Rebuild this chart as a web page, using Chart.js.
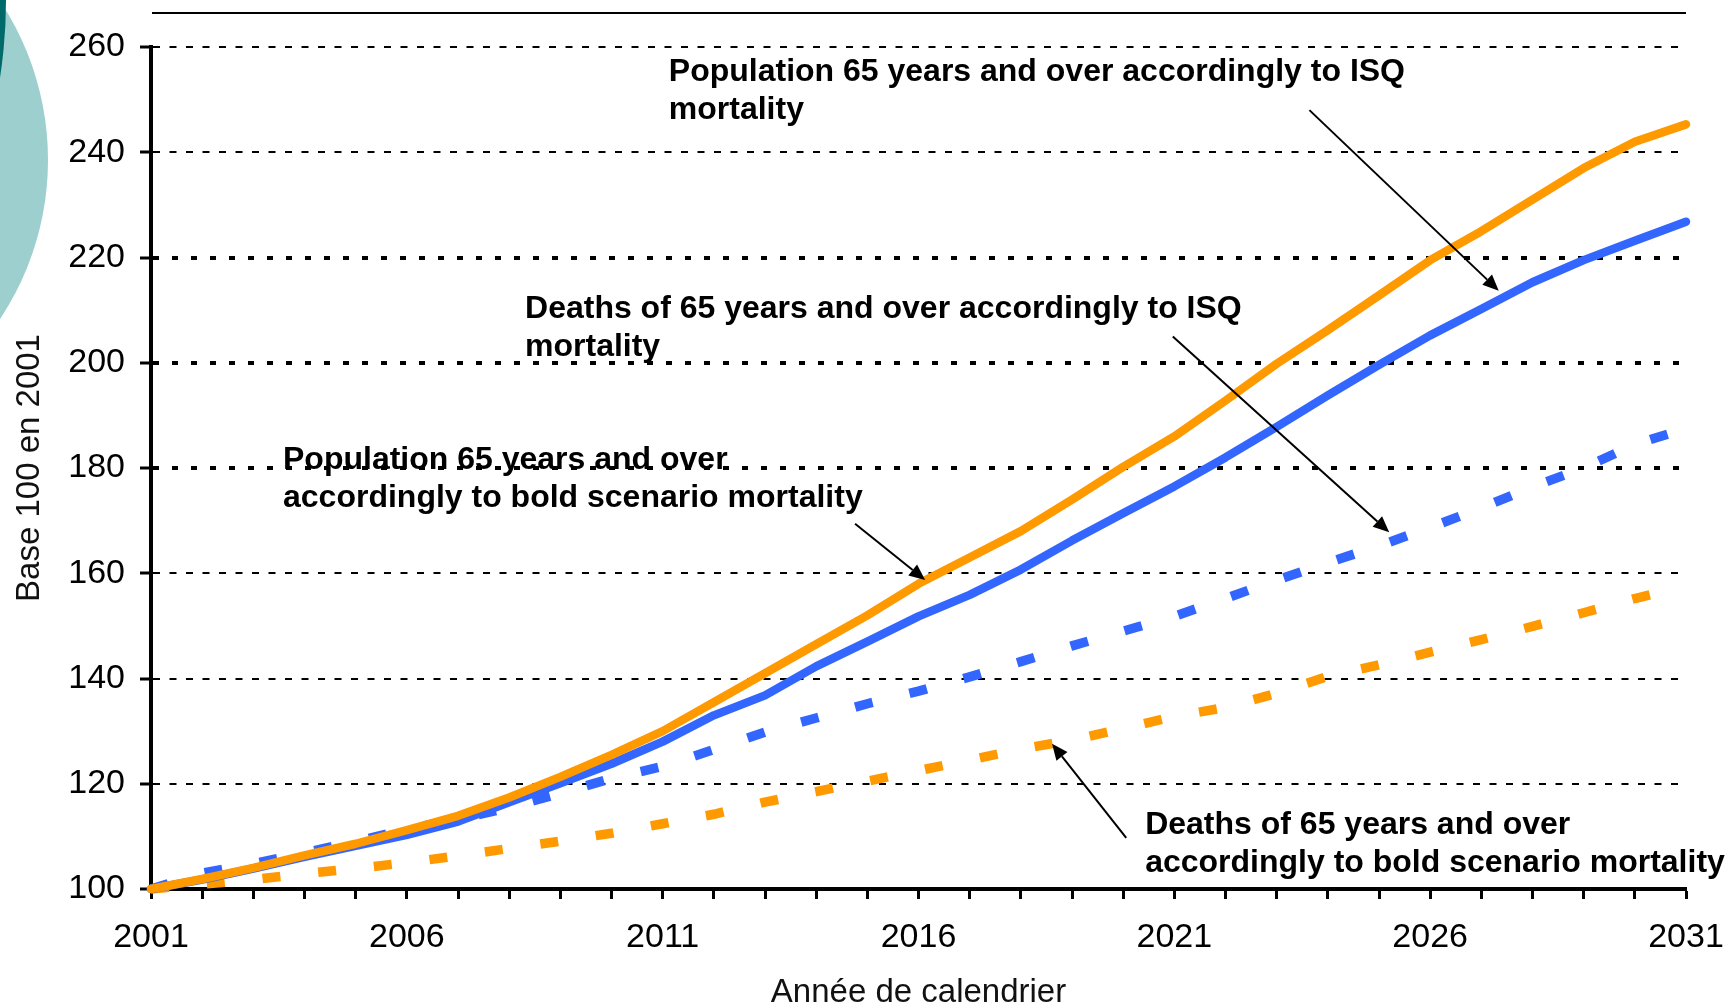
<!DOCTYPE html>
<html>
<head>
<meta charset="utf-8">
<script src="https://cdn.jsdelivr.net/npm/chart.js@4.4.0/dist/chart.umd.min.js"></script>
<style>
  html, body { margin: 0; padding: 0; background: #ffffff; }
  #wrap { position: relative; width: 1725px; height: 1007px; }
  canvas { display: block; }
</style>
</head>
<body>
<div id="wrap"><canvas id="c" width="1725" height="1007"></canvas></div>
<script>
// ---------- data ----------
const years = ['2001','2002','2003','2004','2005','2006','2007','2008','2009','2010',
               '2011','2012','2013','2014','2015','2016','2017','2018','2019','2020',
               '2021','2022','2023','2024','2025','2026','2027','2028','2029','2030','2031'];
const xTickLabels = ['2001','2006','2011','2016','2021','2026','2031'];
const yTickValues = [100,120,140,160,180,200,220,240,260];

const popBold = [100,101.9,104.0,106.4,108.6,111.2,113.9,117.4,121.3,125.5,
                 130.0,135.5,141.0,146.5,152.0,158.0,163.0,168.0,174.0,180.2,
                 186.0,192.8,199.8,206.2,212.8,219.5,225.0,231.0,237.0,242.0,245.3];
const popISQ  = [100,101.8,103.9,106.1,108.2,110.3,112.8,116.5,120.1,123.8,
                 128.0,133.0,136.8,142.3,147.0,151.8,155.9,160.7,166.2,171.4,
                 176.5,182.0,187.8,193.8,199.6,205.2,210.2,215.3,219.5,223.2,226.8];
const deathsISQ = [100,103.0,104.8,106.9,109.0,111.4,113.2,115.5,118.2,121.0,
                   123.3,126.5,129.8,132.5,135.2,137.6,140.3,143.2,146.2,149.0,
                   151.8,155.2,158.7,162.0,165.2,168.7,172.4,176.4,180.0,184.5,187.5];
const deathsBold = [100,100.9,101.8,102.9,103.9,105.0,106.3,107.7,109.1,110.6,
                    112.4,114.2,116.5,118.5,120.5,122.5,124.5,126.6,128.3,130.5,
                    132.8,134.5,137.2,140.4,142.6,145.0,147.4,149.9,152.5,155.2,157.5];

const seriesNames = [
  'Population 65 years and over accordingly to bold scenario mortality',
  'Population 65 years and over accordingly to ISQ mortality',
  'Deaths of 65 years and over accordingly to ISQ mortality',
  'Deaths of 65 years and over accordingly to bold scenario mortality'
];

// annotations: text lines, text anchor (year, value), arrow from (year,value) to (year,value)
const annoLines = [
  ['Population 65 years and over accordingly to ISQ', 'mortality'],
  ['Deaths of 65 years and over accordingly to ISQ', 'mortality'],
  ['Population 65 years and over', 'accordingly to bold scenario mortality'],
  ['Deaths of 65 years and over', 'accordingly to bold scenario mortality']
];
const annoTextYear  = [2011.12, 2008.31, 2003.58, 2020.43];
const annoTextValue = [255.2, 210.2, 181.5, 112.1];
const arrowFromYear  = [2023.64, 2020.97, 2014.76, 2020.06];
const arrowFromValue = [248.0, 205.0, 169.4, 109.7];
const arrowToYear    = [2027.34, 2025.20, 2016.13, 2018.61];
const arrowToValue   = [213.7, 167.8, 158.7, 127.6];

// ---------- style ----------
const ORANGE = '#FF9900';
const BLUE = '#3366FF';
const FONT = '"Liberation Sans", Arial, Helvetica, sans-serif';
const boldGrid = [180, 200, 220];

const decorPlugin = {
  id: 'decor',
  beforeDraw(chart) {
    const ctx = chart.ctx;
    ctx.save();
    ctx.fillStyle = '#9DCFCE';
    ctx.beginPath();
    ctx.ellipse(-228, 160, 276, 282, 0, 0, Math.PI * 2);
    ctx.fill();
    ctx.fillStyle = '#006A6A';
    ctx.beginPath();
    ctx.arc(-500, 0, 506, 0, Math.PI * 2);
    ctx.fill();
    const a = chart.chartArea;
    ctx.strokeStyle = '#000';
    ctx.lineWidth = 2;
    ctx.beginPath();
    ctx.moveTo(a.left + 1, 13);
    ctx.lineTo(a.right, 13);
    ctx.stroke();
    ctx.restore();
  }
};

const annoPlugin = {
  id: 'anno',
  afterDatasetsDraw(chart) {
    const ctx = chart.ctx;
    const xs = chart.scales.x, ys = chart.scales.y;
    const px = (yr) => xs.getPixelForValue(yr - 2001);
    ctx.save();
    ctx.strokeStyle = '#000';
    ctx.fillStyle = '#000';
    ctx.lineWidth = 2;
    for (let i = 0; i < annoLines.length; i++) {
      const x1 = px(arrowFromYear[i]), y1 = ys.getPixelForValue(arrowFromValue[i]);
      const x2 = px(arrowToYear[i]), y2 = ys.getPixelForValue(arrowToValue[i]);
      const ang = Math.atan2(y2 - y1, x2 - x1);
      const hl = 16, hw = 7;
      const bx = x2 - hl * Math.cos(ang), by = y2 - hl * Math.sin(ang);
      ctx.beginPath();
      ctx.moveTo(x1, y1);
      ctx.lineTo(bx, by);
      ctx.stroke();
      ctx.beginPath();
      ctx.moveTo(x2, y2);
      ctx.lineTo(bx + hw * Math.sin(ang), by - hw * Math.cos(ang));
      ctx.lineTo(bx - hw * Math.sin(ang), by + hw * Math.cos(ang));
      ctx.closePath();
      ctx.fill();
    }
    ctx.font = 'bold 32px ' + FONT;
    ctx.textAlign = 'left';
    ctx.textBaseline = 'middle';
    for (let i = 0; i < annoLines.length; i++) {
      const x = px(annoTextYear[i]);
      const y = ys.getPixelForValue(annoTextValue[i]);
      annoLines[i].forEach((t, k) => ctx.fillText(t, x, y + k * 38));
    }
    ctx.restore();
  }
};

new Chart(document.getElementById('c'), {
  type: 'line',
  data: {
    labels: years,
    datasets: [
      { label: seriesNames[0], data: popBold, borderColor: ORANGE, borderWidth: 8.5,
        borderCapStyle: 'round', borderJoinStyle: 'round' },
      { label: seriesNames[1], data: popISQ, borderColor: BLUE, borderWidth: 8.5,
        borderCapStyle: 'round', borderJoinStyle: 'round' },
      { label: seriesNames[2], data: deathsISQ, borderColor: BLUE, borderWidth: 9.5,
        borderDash: [18, 38], borderCapStyle: 'butt' },
      { label: seriesNames[3], data: deathsBold, borderColor: ORANGE, borderWidth: 9.5,
        borderDash: [18, 38], borderCapStyle: 'butt' }
    ]
  },
  options: {
    responsive: false,
    animation: false,
    devicePixelRatio: 1,
    layout: { padding: { top: 47, right: 39, left: 0, bottom: 0 } },
    elements: { point: { radius: 0, hoverRadius: 0 }, line: { tension: 0, fill: false } },
    datasets: { line: { clip: false } },
    plugins: { legend: { display: false }, tooltip: { enabled: false } },
    scales: {
      x: {
        type: 'category',
        offset: false,
        afterFit(s) { s.height = 118; s.paddingLeft = 0; s.paddingRight = 0; },
        grid: { drawOnChartArea: false, drawTicks: true, tickLength: 10, tickWidth: 3,
                tickColor: '#000', offset: false },
        border: { display: true, color: '#000', width: 4 },
        ticks: {
          autoSkip: false, maxRotation: 0, minRotation: 0, padding: 18,
          color: '#000', font: { family: FONT, size: 34 },
          callback(val, idx) { return xTickLabels.includes(years[idx]) ? years[idx] : ''; }
        },
        title: { display: true, text: 'Année de calendrier', color: '#111',
                 font: { family: FONT, size: 33, lineHeight: 0.85 }, padding: { top: 0, bottom: 0 } }
      },
      y: {
        type: 'linear',
        min: 100, max: 260,
        afterFit(s) { s.width = 151; s.paddingTop = 0; s.paddingBottom = 0; },
        afterBuildTicks(s) { s.ticks = yTickValues.map(v => ({ value: v })); },
        grid: {
          drawOnChartArea: true, drawTicks: true, tickLength: 11, tickWidth: 3, tickColor: '#000',
          color(c) { return (c.tick && c.tick.value === 100) ? 'rgba(0,0,0,0)' : '#000'; },
          lineWidth(c) { return (c.tick && boldGrid.includes(c.tick.value)) ? 4 : 2; }
        },
        border: {
          display: true, color: '#000', width: 4,
          dash(c) {
            if (!c.tick) return [];
            return boldGrid.includes(c.tick.value) ? [6, 13] : [7, 9.5];
          }
        },
        ticks: {
          padding: 15, color: '#000', font: { family: FONT, size: 34 },
          callback(v) { return String(v); }
        },
        title: { display: true, text: 'Base 100 en 2001', color: '#111',
                 font: { family: FONT, size: 33, lineHeight: 1.2 }, padding: { top: 10, bottom: 0 } }
      }
    }
  },
  plugins: [decorPlugin, annoPlugin]
});
</script>
</body>
</html>
